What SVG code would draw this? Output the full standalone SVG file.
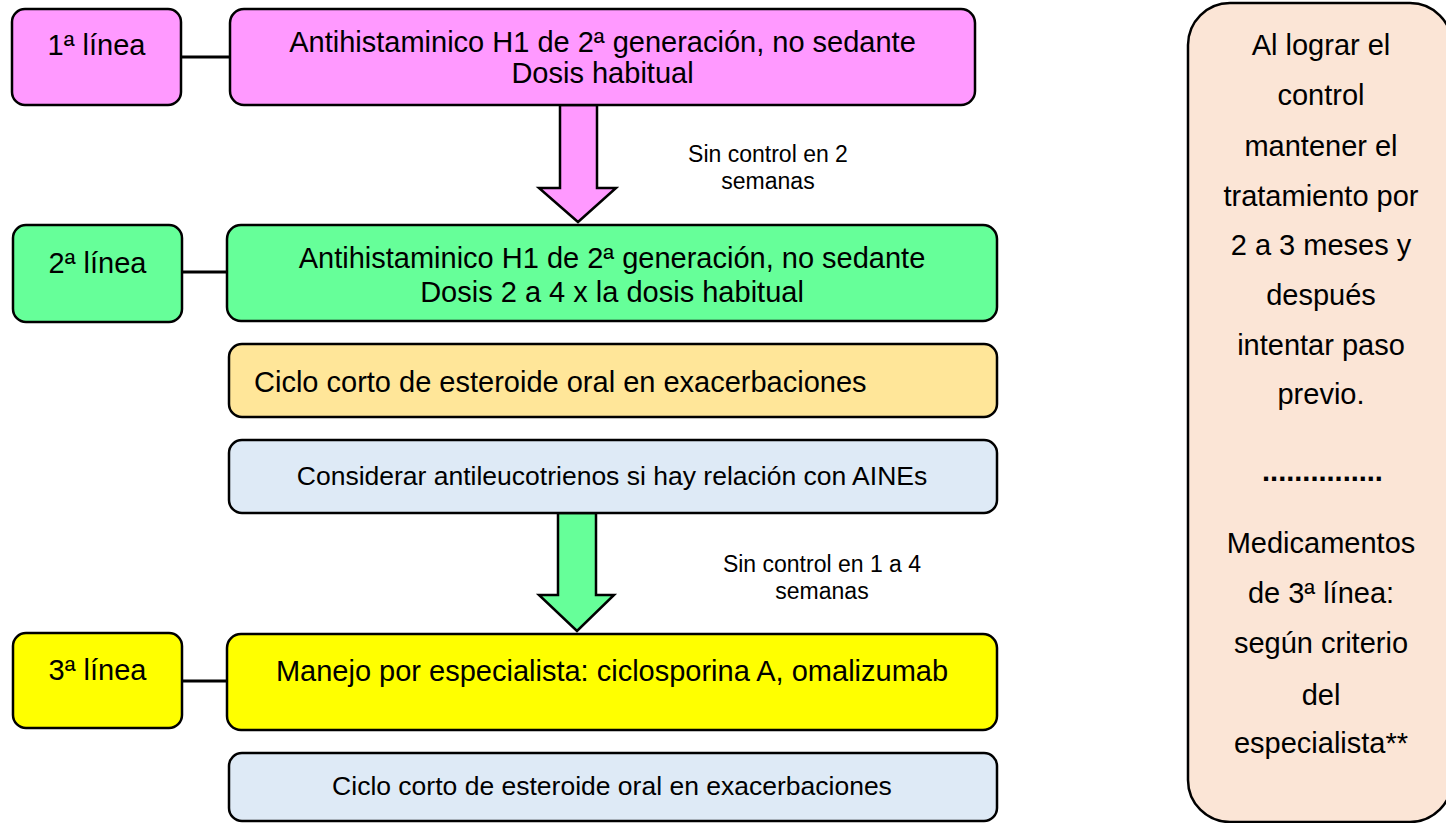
<svg xmlns="http://www.w3.org/2000/svg" width="1446" height="823" viewBox="0 0 1446 823">
<style>
.box{stroke:#000;stroke-width:2.5}
.t{font-family:"Liberation Sans",Arial,sans-serif;font-size:29px;fill:#000}
.m{text-anchor:middle}
.s{font-size:26.5px}
.lbl{font-family:"Liberation Sans",Arial,sans-serif;font-size:23px;fill:#000;text-anchor:middle}
.conn{stroke:#000;stroke-width:3;fill:none}
.arr{stroke:#000;stroke-width:2.5;stroke-linejoin:miter}
</style>
<rect width="1446" height="823" fill="#fff"/>
<g id="connectors">
<line class="conn" x1="181" y1="57" x2="230" y2="57"/>
<line class="conn" x1="182" y1="272" x2="228" y2="272"/>
<line class="conn" x1="182" y1="681" x2="228" y2="681"/>
<polygon class="arr" fill="#FF99FF" points="560,105 597,105 597,188 616,188 578,222 539,188 560,188"/>
<polygon class="arr" fill="#66FF99" points="558,513 596,513 596,595 614,595 577,631 539,595 558,595"/>
<text class="lbl" x="768" y="162">Sin control en 2</text>
<text class="lbl" x="768" y="189">semanas</text>
<text class="lbl" x="822" y="572">Sin control en 1 a 4</text>
<text class="lbl" x="822" y="599">semanas</text>
</g>
<g id="linea1">
<rect class="box" x="12" y="9" width="169" height="96" rx="13" fill="#FF99FF"/>
<text class="t m" x="96.5" y="55">1ª línea</text>
</g>
<g id="step1">
<rect class="box" x="230" y="9" width="745" height="96" rx="14" fill="#FF99FF"/>
<text class="t m" x="602.5" y="52">Antihistaminico H1 de 2ª generación, no sedante</text>
<text class="t m" x="602.5" y="83">Dosis habitual</text>
</g>
<g id="linea2">
<rect class="box" x="13" y="225" width="169" height="97" rx="13" fill="#66FF99"/>
<text class="t m" x="97.5" y="273">2ª línea</text>
</g>
<g id="step2">
<rect class="box" x="227" y="225" width="770" height="96" rx="14" fill="#66FF99"/>
<text class="t m" x="612" y="268">Antihistaminico H1 de 2ª generación, no sedante</text>
<text class="t m" x="612" y="302">Dosis 2 a 4 x la dosis habitual</text>
</g>
<g id="esteroide1">
<rect class="box" x="229" y="344" width="768" height="73" rx="13" fill="#FFE699"/>
<text class="t" x="254" y="392">Ciclo corto de esteroide oral en exacerbaciones</text>
</g>
<g id="antileucotrienos">
<rect class="box" x="229" y="440" width="768" height="73" rx="13" fill="#DEEAF6"/>
<text class="t m s" x="612" y="485">Considerar antileucotrienos si hay relación con AINEs</text>
</g>
<g id="linea3">
<rect class="box" x="13" y="633" width="169" height="95" rx="13" fill="#FFFF00"/>
<text class="t m" x="97.5" y="680">3ª línea</text>
</g>
<g id="step3">
<rect class="box" x="227" y="634" width="770" height="96" rx="14" fill="#FFFF00"/>
<text class="t m" x="612" y="681">Manejo por especialista: ciclosporina A, omalizumab</text>
</g>
<g id="esteroide2">
<rect class="box" x="229" y="753" width="768" height="68" rx="13" fill="#DEEAF6"/>
<text class="t m s" x="612" y="795">Ciclo corto de esteroide oral en exacerbaciones</text>
</g>
<g id="nota">
<rect class="box" x="1188" y="3" width="264" height="819" rx="42" fill="#FBE5D6" stroke-width="2"/>
<text class="t m" x="1321" y="55">Al lograr el</text>
<text class="t m" x="1321" y="105">control</text>
<text class="t m" x="1321" y="156">mantener el</text>
<text class="t m" x="1321" y="206">tratamiento por</text>
<text class="t m" x="1321" y="255">2 a 3 meses y</text>
<text class="t m" x="1321" y="305">después</text>
<text class="t m" x="1321" y="355">intentar paso</text>
<text class="t m" x="1321" y="404">previo.</text>
<text class="t m" x="1322.5" y="481" font-weight="bold">...............</text>
<text class="t m" x="1321" y="553">Medicamentos</text>
<text class="t m" x="1321" y="603">de 3ª línea:</text>
<text class="t m" x="1321" y="653">según criterio</text>
<text class="t m" x="1321" y="705">del</text>
<text class="t m" x="1321" y="753">especialista**</text>
</g>
</svg>
